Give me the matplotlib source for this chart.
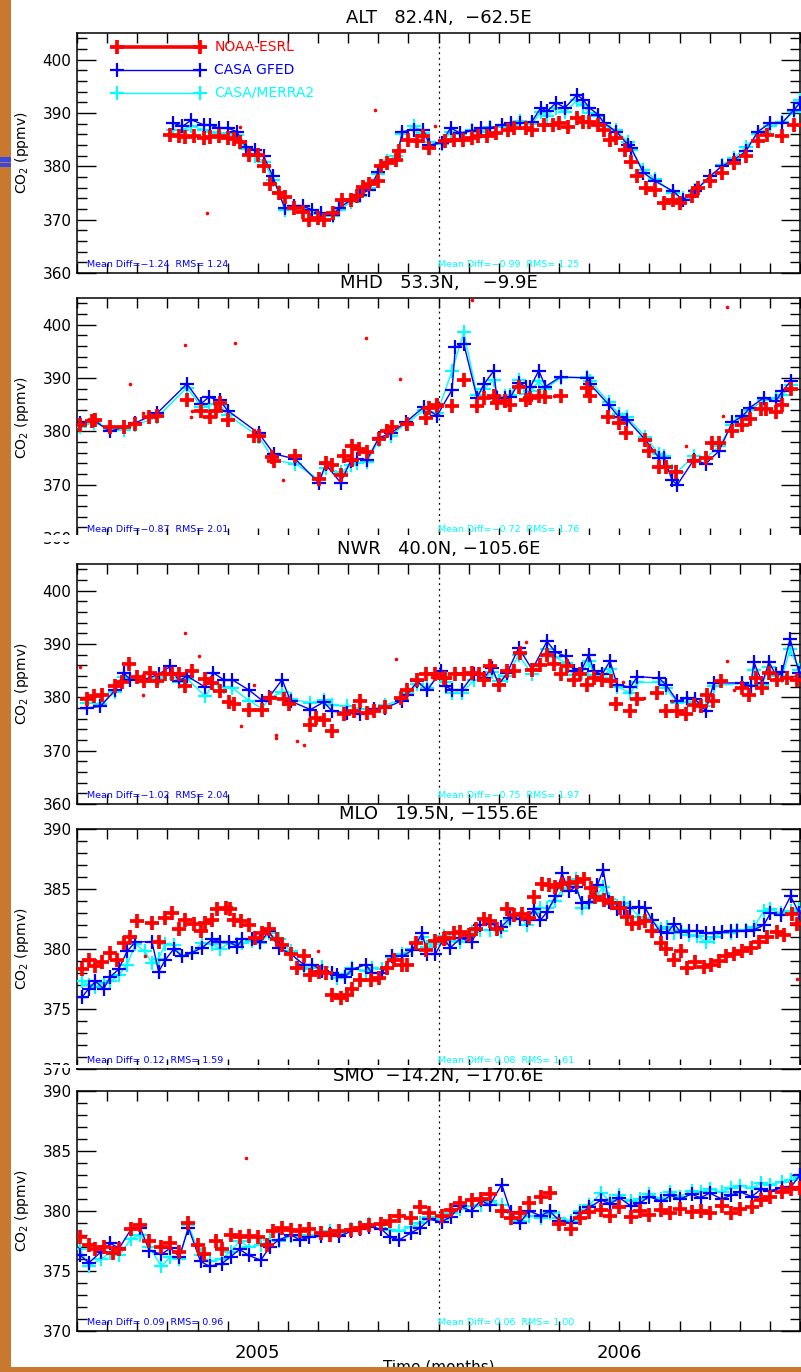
import matplotlib
matplotlib.use("Agg")
import matplotlib.pyplot as plt
from matplotlib.patches import Rectangle
from matplotlib.ticker import MultipleLocator

# ---------------- DATA (time = months since 2004-07-01, CO2 in ppmv) ----------------
stations = ["ALT", "MHD", "NWR", "MLO", "SMO"]
titles = ["ALT   82.4N,  \u221262.5E", "MHD   53.3N,    \u22129.9E", "NWR   40.0N, \u2212105.6E",
          "MLO   19.5N, \u2212155.6E", "SMO  \u221214.2N, \u2212170.6E"]
ylims = [(360, 405), (360, 405), (360, 405), (370, 390), (370, 390)]
stats_gfed = ["Mean Diff=\u22121.24  RMS= 1.24", "Mean Diff=\u22120.87  RMS= 2.01", "Mean Diff=\u22121.02  RMS= 2.04",
              "Mean Diff= 0.12  RMS= 1.59", "Mean Diff= 0.09  RMS= 0.96"]
stats_merra = ["Mean Diff=\u22120.99  RMS= 1.25", "Mean Diff=\u22120.72  RMS= 1.76", "Mean Diff=\u22120.75  RMS= 1.97",
               "Mean Diff= 0.08  RMS= 1.61", "Mean Diff= 0.06  RMS= 1.00"]
legend_labels = ["NOAA-ESRL", "CASA GFED", "CASA/MERRA2"]
year_ticks = [6, 18]
year_labels = ["2005", "2006"]

alt_noaa = [(3.1,385.8),(3.4,385.6),(3.6,385.5),(3.9,385.7),(4.2,385.3),(4.4,385.5),(4.7,385.6),(5.0,385.3),(5.2,385.2),(5.4,384.5),
            (5.7,382.2),(6.0,382.2),(6.2,380.1),(6.4,376.6),(6.7,375.0),(6.9,374.3),(7.2,372.2),(7.5,371.5),(7.7,370.0),(8.0,370.3),
            (8.2,370.0),(8.5,371.2),(8.8,373.7),(9.1,373.7),(9.3,374.4),(9.5,376.2),(9.7,376.6),(10.0,377.3),(10.1,380.0),(10.3,380.6),
            (10.6,381.2),(10.7,382.8),(11.0,385.0),(11.3,384.7),(11.5,385.6),(11.7,383.4),(12.2,384.7),(12.5,385.0),(12.8,385.0),(13.1,385.4),
            (13.3,385.6),(13.6,385.6),(13.9,386.3),(14.3,386.9),(14.5,387.2),(14.9,387.2),(15.1,386.9),(15.5,387.8),(15.8,387.8),(16.0,388.1),
            (16.3,387.4),(16.6,389.1),(16.8,388.4),(17.0,388.4),(17.3,387.8),(17.5,386.9),(17.7,385.0),(17.9,385.4),(18.2,383.1),(18.4,380.9),
            (18.6,378.1),(18.9,376.0),(19.2,375.6),(19.5,373.1),(19.8,373.7),(20.0,373.1),(20.4,374.4),(20.6,375.9),(21.0,377.2),(21.4,378.8),
            (21.8,380.6),(22.2,381.9),(22.6,384.7),(22.9,385.9),(23.4,385.6),(23.8,387.8)]
alt_gfed = [(3.2,388.1),(3.5,387.5),(3.8,388.7),(4.2,387.8),(4.4,387.8),(4.7,387.2),(5.0,387.2),(5.3,386.5),(5.6,383.7),(5.9,383.1),
            (6.2,381.9),(6.5,378.1),(6.7,375.0),(6.9,372.2),(7.2,372.5),(7.5,372.5),(7.8,371.9),(8.1,371.2),(8.5,370.9),(8.7,372.2),
            (9.1,373.7),(9.4,374.7),(9.7,375.6),(10.0,379.0),(10.3,380.6),(10.6,381.2),(10.8,386.5),(11.2,386.9),(11.5,386.9),(11.7,384.0),
            (12.1,384.4),(12.4,387.2),(12.7,386.3),(13.1,386.6),(13.4,387.2),(13.7,387.2),(14.1,387.8),(14.4,388.1),(14.7,388.1),(15.1,388.4),
            (15.4,391.0),(15.6,390.3),(15.9,391.9),(16.2,391.0),(16.6,393.4),(16.8,392.5),(17.0,391.0),(17.3,389.7),(17.5,388.1),(17.9,386.5),
            (18.3,384.0),(18.4,383.4),(18.8,378.8),(19.2,377.2),(19.8,375.3),(20.1,373.7),(20.5,375.3),(21.0,378.1),(21.4,380.0),(21.8,381.2),
            (22.2,382.8),(22.6,386.5),(23.0,388.1),(23.4,388.1),(23.8,390.6),(24.0,391.9)]
alt_merra = [(3.2,386.8),(3.5,386.9),(3.8,387.5),(4.2,386.9),(4.4,386.5),(4.7,386.2),(5.0,386.3),(5.3,385.9),(5.6,383.2),(5.9,382.0),
             (6.2,380.9),(6.5,377.5),(6.7,375.2),(6.9,371.8),(7.2,372.6),(7.5,372.0),(7.8,371.3),(8.1,371.0),(8.5,370.6),(8.7,371.8),
             (9.1,373.3),(9.4,374.4),(9.7,376.0),(10.0,378.6),(10.3,381.0),(10.6,382.0),(10.8,386.0),(11.2,387.6),(11.5,386.2),(11.7,384.6),
             (12.1,384.1),(12.4,386.5),(12.7,386.0),(13.1,386.8),(13.4,386.5),(13.7,387.3),(14.1,387.4),(14.4,387.7),(14.7,388.5),(15.1,388.0),
             (15.4,390.2),(15.6,389.5),(15.9,391.0),(16.2,390.2),(16.6,392.4),(16.8,391.5),(17.0,390.0),(17.3,389.4),(17.5,387.6),(17.9,386.8),
             (18.3,384.5),(18.4,383.0),(18.8,379.4),(19.2,377.6),(19.8,375.0),(20.1,374.0),(20.5,375.6),(21.0,377.5),(21.4,380.3),(21.8,381.5),
             (22.2,383.6),(22.6,386.0),(23.0,387.5),(23.4,388.3),(23.8,390.2),(24.0,392.5)]
alt_flask = [(4.3,371.2),(9.9,390.5),(5.4,387.4),(11.9,387.6)]

mhd_noaa = [(0.1,381.1),(0.5,381.9),(0.6,382.1),(1.1,380.9),(1.55,380.8),(1.94,381.4),(2.38,382.7),(2.66,382.8),(3.65,385.9),(4.12,383.8),
            (4.41,382.7),(4.6,383.8),(4.74,385.4),(5.0,382.1),(5.87,379.2),(6.04,379.2),(6.48,375.1),(6.53,374.4),(7.25,375.3),(8.03,371.1),
            (8.25,374.1),(8.47,373.6),(8.75,371.9),(8.86,375.3),(9.14,374.7),(9.14,377.2),(9.36,376.6),(9.63,376.1),(10.02,378.6),(10.3,380.0),
            (10.46,380.8),(10.96,381.3),(11.57,382.5),(11.68,384.4),(11.96,385.0),(11.95,384.7),(12.45,384.8),(12.84,389.7),(13.28,384.7),(13.5,386.3),
            (13.83,386.7),(13.94,385.3),(14.22,385.6),(14.39,385.0),(14.66,388.4),(14.89,385.9),(15.05,386.3),(15.33,386.7),(15.55,386.4),(16.05,386.6),
            (16.93,388.1),(17.02,386.7),(17.63,382.6),(17.99,381.6),(18.23,379.6),(18.87,378.3),(19.0,376.3),(19.32,373.4),(19.54,373.4),(19.87,372.3),
            (20.48,374.4),(20.87,375.0),(21.09,377.8),(21.31,377.8),(21.75,380.0),(22.08,381.1),(22.33,382.3),(22.69,384.1),(22.86,384.1),(23.19,383.6),
            (23.41,385.0),(23.71,387.9)]
mhd_gfed = [(0.1,381.6),(0.55,382.1),(1.1,380.0),(1.55,380.8),(1.94,381.6),(2.66,383.4),(3.65,388.9),(4.12,385.2),(4.37,386.4),(4.74,385.8),
            (5.0,383.9),(6.04,379.6),(6.53,375.8),(7.25,374.8),(8.03,370.3),(8.25,373.8),(8.75,370.4),(9.08,374.4),(9.3,374.8),(9.63,374.7),
            (10.02,378.8),(10.41,379.6),(10.91,381.7),(11.52,384.6),(11.95,382.9),(12.45,387.8),(12.56,395.8),(12.84,396.4),(13.28,386.3),(13.5,388.8),
            (13.83,391.3),(13.94,386.3),(14.22,386.3),(14.39,386.4),(14.66,389.1),(14.89,388.4),(15.05,388.3),(15.33,391.4),(15.55,388.4),(16.05,390.2),
            (16.93,390.0),(17.02,388.9),(17.65,385.0),(17.99,382.7),(18.26,382.2),(18.87,378.4),(19.32,375.0),(19.48,375.0),(19.76,370.8),(19.93,370.0),
            (20.48,374.7),(20.87,373.9),(21.31,376.3),(21.75,381.7),(22.08,382.8),(22.33,384.4),(22.8,386.3),(23.19,385.6),(23.41,387.5),(23.69,389.4)]
mhd_merra = [(0.1,380.8),(0.55,381.6),(1.1,380.5),(1.55,380.3),(1.94,381.2),(2.66,382.6),(3.65,388.2),(4.12,384.6),(4.37,385.2),(4.74,385.0),
             (5.0,383.1),(6.04,379.0),(6.53,374.6),(7.25,373.9),(8.03,371.0),(8.25,373.2),(8.75,372.3),(9.08,373.6),(9.3,374.0),(9.63,374.3),
             (10.02,378.4),(10.41,379.2),(10.91,381.4),(11.52,384.0),(11.96,383.5),(12.45,391.3),(12.84,398.6),(13.28,386.8),(13.5,388.0),(13.83,389.6),
             (13.94,386.5),(14.22,386.6),(14.39,386.8),(14.66,389.6),(14.89,387.0),(15.05,387.5),(15.33,389.4),(15.55,388.0),(16.05,390.0),(16.93,390.2),
             (17.02,389.5),(17.65,385.5),(17.99,383.2),(18.26,382.6),(18.87,379.0),(19.32,375.7),(19.48,375.3),(19.76,372.6),(19.93,372.4),(20.48,375.4),
             (20.87,375.0),(21.31,377.2),(21.75,381.2),(22.08,382.5),(22.33,384.0),(22.8,385.8),(23.19,386.2),(23.41,386.8),(23.69,388.6)]
mhd_flask = [(1.75,388.9),(3.58,396.1),(5.23,396.6),(9.58,397.5),(10.71,389.8),(6.83,370.8),(3.8,382.6),(2.18,383.4),(3.82,383.9),
             (13.11,404.7),(21.59,403.4),(21.44,382.9),(20.2,377.3),(15.85,386.7)]

nwr_noaa = [(0.33,379.6),(0.55,380.2),(0.83,380.5),(1.27,382.1),(1.5,382.9),(1.72,386.3),(1.99,383.9),(2.21,383.0),(2.41,384.6),(2.66,383.0),
            (2.93,384.4),(3.16,384.3),(3.38,384.3),(3.6,382.1),(3.82,385.0),(4.26,383.5),(4.49,382.7),(4.76,381.1),(5.04,379.1),(5.2,378.8),
            (5.7,377.6),(6.15,377.6),(6.4,379.9),(6.87,379.6),(7.03,378.8),(7.75,374.9),(7.92,376.1),(8.19,375.8),(8.47,373.6),(8.86,376.8),
            (9.19,377.4),(9.41,379.3),(9.63,377.1),(9.86,377.4),(10.24,378.1),(10.74,379.9),(10.96,381.3),(11.3,383.3),(11.57,384.3),(11.9,384.3),
            (12.18,383.6),(12.23,383.6),(12.56,384.4),(12.84,384.3),(13.11,384.6),(13.34,384.4),(13.5,383.3),(13.72,385.8),(14.0,382.4),(14.28,384.9),
            (14.5,385.0),(14.7,388.3),(15.11,385.2),(15.38,386.1),(15.6,387.9),(15.83,386.3),(16.05,384.3),(16.27,385.8),(16.49,383.3),(16.71,384.3),
            (16.93,382.4),(17.16,383.6),(17.43,383.3),(17.71,383.0),(17.88,378.8),(18.37,377.5),(18.6,379.6),(19.26,380.8),(19.54,377.5),(19.93,377.4),
            (20.2,376.8),(20.48,378.6),(20.7,378.3),(20.92,380.5),(21.12,379.3),(21.37,383.0),(22.08,381.8),(22.31,380.5),(22.53,383.6),(22.75,381.8),
            (22.97,384.6),(23.25,383.3),(23.58,383.6),(23.91,383.3)]
nwr_gfed = [(0.33,378.0),(0.78,378.3),(1.27,381.4),(1.55,384.6),(1.77,383.3),(2.21,383.3),(2.71,384.3),(3.1,385.8),(3.38,383.0),(3.65,384.0),
            (4.26,381.9),(4.52,384.6),(4.87,383.3),(5.15,383.3),(5.7,381.4),(6.15,379.4),(6.37,380.0),(6.81,383.3),(7.09,379.3),(7.75,377.7),
            (8.19,379.1),(8.47,377.4),(8.97,377.1),(9.41,376.8),(9.86,377.9),(10.24,378.0),(10.8,379.4),(10.96,380.5),(11.3,383.0),(11.63,381.3),
            (12.07,384.9),(12.24,382.1),(12.45,381.4),(12.78,381.4),(13.17,384.3),(13.5,383.6),(13.78,385.5),(14.0,382.4),(14.28,384.6),(14.66,389.3),
            (15.11,385.2),(15.6,390.5),(15.88,388.5),(16.22,387.7),(16.49,385.0),(16.77,385.4),(16.99,388.0),(17.16,384.9),(17.43,384.3),(17.69,386.8),
            (17.93,382.4),(18.37,381.9),(18.6,383.9),(19.32,383.6),(19.54,382.4),(19.93,379.3),(20.26,379.9),(20.53,379.6),(20.87,377.5),(21.14,382.7),
            (22.08,382.7),(22.36,382.1),(22.47,386.6),(22.75,382.7),(22.97,386.6),(23.19,384.3),(23.41,384.8),(23.67,391.0),(23.97,384.6)]
nwr_merra = [(0.33,379.0),(0.78,378.8),(1.27,381.0),(1.55,383.8),(1.77,383.6),(2.21,383.0),(2.71,383.6),(3.1,384.5),(3.38,382.8),(3.65,383.5),
             (4.26,380.2),(4.52,382.5),(4.87,382.0),(5.15,381.8),(5.7,379.4),(6.15,377.9),(6.37,379.8),(6.81,381.0),(7.09,379.6),(7.75,379.0),
             (8.19,379.5),(8.47,378.5),(8.97,378.4),(9.41,377.9),(9.86,377.6),(10.24,378.6),(10.8,379.6),(10.96,380.8),(11.3,382.5),(11.63,381.8),
             (12.07,384.3),(12.24,382.8),(12.45,380.8),(12.78,380.9),(13.17,383.2),(13.5,383.4),(13.78,384.8),(14.0,383.0),(14.28,384.0),(14.66,387.9),
             (15.11,384.3),(15.6,389.1),(15.88,387.6),(16.22,386.4),(16.49,384.1),(16.77,384.6),(16.99,386.9),(17.16,384.2),(17.43,383.6),(17.69,385.4),
             (17.93,382.0),(18.37,380.8),(18.6,382.8),(19.32,382.8),(19.54,381.8),(19.93,379.0),(20.26,379.2),(20.53,379.1),(20.87,378.4),(21.14,382.2),
             (22.08,382.6),(22.36,382.4),(22.47,385.2),(22.75,382.4),(22.97,385.6),(23.19,384.0),(23.41,384.0),(23.67,389.0),(23.97,385.2)]
nwr_flask = [(0.1,385.6),(3.58,392.1),(4.06,387.7),(5.43,374.6),(5.89,382.4),(6.59,373.0),(6.6,372.4),(7.29,371.9),(7.53,371.0),(10.58,387.1),
             (2.18,380.5),(14.92,390.4),(21.59,386.9),(21.81,381.3),(19.76,379.4),(18.12,382.9),(18.82,379.9),(11.79,383.9)]

mlo_noaa = [(0.17,378.3),(0.39,379.1),(0.61,378.6),(0.83,378.9),(1.11,379.7),(1.33,379.1),(1.55,380.5),(1.77,381.0),(1.99,382.3),(2.49,382.2),
            (2.71,380.6),(2.93,382.6),(3.16,383.0),(3.38,381.7),(3.6,382.4),(3.88,382.1),(4.1,381.5),(4.26,382.2),(4.49,382.4),(4.65,383.3),
            (4.93,383.4),(5.09,383.3),(5.2,382.4),(5.43,382.3),(5.7,382.0),(5.92,380.9),(6.15,381.3),(6.37,381.7),(6.64,380.8),(6.81,380.3),
            (7.09,379.6),(7.31,378.4),(7.53,379.4),(7.75,377.8),(8.03,378.1),(8.25,378.0),(8.47,376.2),(8.75,375.9),(8.97,376.2),(9.14,376.7),
            (9.41,377.4),(9.75,377.4),(10.02,377.6),(10.3,378.4),(10.52,379.1),(10.8,378.7),(10.96,378.7),(11.24,380.5),(11.57,379.9),(11.9,380.7),
            (12.18,380.8),(12.23,380.9),(12.51,381.3),(12.73,381.4),(13.0,381.2),(13.23,381.7),(13.5,382.5),(13.72,382.3),(13.94,381.7),(14.28,383.3),
            (14.5,382.8),(14.78,382.9),(15.0,382.6),(15.16,384.3),(15.44,385.4),(15.66,385.3),(15.88,385.2),(16.1,385.4),(16.33,385.5),(16.6,385.6),
            (16.82,385.8),(17.05,385.1),(17.21,384.3),(17.49,384.1),(17.77,383.8),(18.04,383.4),(18.26,382.7),(18.43,382.1),(18.65,382.2),(18.87,382.3),
            (19.09,381.5),(19.37,380.5),(19.54,380.0),(19.82,379.1),(20.04,379.8),(20.26,378.4),(20.53,378.9),(20.81,378.5),(21.03,378.7),(21.31,379.0),
            (21.53,379.4),(21.81,379.6),(22.08,379.8),(22.36,380.1),(22.64,380.6),(22.92,381.0),(23.25,381.4),(23.47,381.2),(23.75,382.9),(23.91,382.1)]
mlo_gfed = [(0.17,376.0),(0.39,376.7),(0.61,377.3),(0.89,376.7),(1.11,377.7),(1.38,378.3),(1.66,379.8),(1.94,380.6),(2.49,380.6),(2.71,378.1),
            (2.93,379.1),(3.21,380.0),(3.49,379.4),(3.82,379.7),(4.15,380.1),(4.49,380.8),(4.76,380.6),(5.04,380.6),(5.32,380.2),(5.48,380.8),
            (5.81,380.8),(6.09,380.6),(6.37,381.5),(6.7,380.1),(7.09,379.6),(7.53,378.7),(7.81,378.7),(8.14,378.2),(8.47,378.0),(8.64,377.8),
            (8.91,377.7),(9.14,378.3),(9.58,378.7),(9.8,378.0),(10.13,378.0),(10.47,379.4),(10.8,379.4),(11.13,379.9),(11.46,381.3),(11.63,379.6),
            (11.9,379.6),(12.18,380.9),(12.39,380.1),(12.73,380.9),(13.11,380.6),(13.39,382.0),(13.72,382.1),(14.06,381.8),(14.39,382.6),(14.72,382.5),
            (14.94,382.4),(15.16,383.3),(15.38,382.4),(15.61,383.1),(15.88,384.4),(16.1,386.3),(16.33,384.8),(16.55,385.2),(16.77,383.8),(16.99,383.9),
            (17.27,385.3),(17.47,386.6),(17.65,383.9),(17.93,383.3),(18.15,383.4),(18.37,383.4),(18.65,383.5),(18.87,383.4),(19.09,382.4),(19.37,381.4),
            (19.59,381.3),(19.82,382.1),(20.04,381.4),(20.31,381.5),(20.59,381.5),(20.87,381.3),(21.14,381.3),(21.42,381.4),(21.7,381.5),(21.92,381.5),
            (22.2,381.5),(22.47,381.6),(22.8,382.0),(23.02,383.0),(23.36,382.8),(23.69,384.4),(23.97,383.0)]
mlo_merra = [(0.17,377.3),(0.39,377.0),(0.61,376.8),(0.89,377.2),(1.11,377.3),(1.38,377.8),(1.66,378.7),(1.94,380.4),(2.25,379.8),(2.49,378.8),
             (2.71,379.2),(2.93,380.4),(3.21,380.3),(3.49,379.4),(3.82,379.7),(4.15,380.5),(4.49,380.4),(4.76,380.0),(5.04,380.5),(5.32,380.4),
             (5.48,380.5),(5.81,380.7),(6.09,380.5),(6.37,381.3),(6.7,380.8),(7.09,379.8),(7.53,378.3),(7.81,378.4),(8.14,378.5),(8.47,378.0),
             (8.64,377.6),(8.91,377.9),(9.14,378.4),(9.58,378.2),(9.8,378.4),(10.13,378.3),(10.47,379.3),(10.8,379.6),(11.13,380.0),(11.46,381.0),
             (11.63,380.2),(11.9,380.4),(12.18,381.1),(12.39,380.7),(12.73,380.6),(13.11,381.4),(13.39,381.6),(13.72,381.6),(14.06,381.5),(14.39,382.4),
             (14.72,382.6),(14.94,382.0),(15.16,383.0),(15.38,383.4),(15.61,383.4),(15.88,384.0),(16.1,385.0),(16.33,385.3),(16.55,385.8),(16.77,383.4),
             (16.99,383.8),(17.27,384.5),(17.47,385.2),(17.65,384.2),(17.93,383.6),(18.15,383.8),(18.37,383.5),(18.65,382.7),(18.87,382.6),(19.09,382.4),
             (19.37,381.7),(19.59,381.8),(19.82,381.3),(20.04,381.6),(20.31,381.2),(20.59,381.1),(20.87,380.6),(21.14,381.0),(21.42,381.4),(21.7,381.3),
             (21.92,381.6),(22.2,381.6),(22.47,381.8),(22.8,383.2),(23.02,383.3),(23.36,383.0),(23.69,383.2),(23.97,383.3)]
mlo_flask = [(2.25,379.4),(8.01,379.8),(23.91,377.5)]

smo_noaa = [(0.1,377.8),(0.4,377.2),(0.6,376.8),(0.9,377.0),(1.2,376.5),(1.4,376.8),(1.8,378.5),(2.1,378.8),(2.4,377.5),(2.8,377.0),
            (3.1,377.3),(3.4,376.6),(3.7,379.0),(4.0,377.2),(4.2,376.4),(4.6,377.5),(4.8,376.8),(5.1,378.0),(5.4,377.8),(5.7,377.9),
            (6.0,377.8),(6.3,377.2),(6.5,378.3),(6.8,378.6),(7.1,378.4),(7.4,378.3),(7.7,378.5),(8.1,378.2),(8.4,378.0),(8.7,378.3),
            (9.1,378.4),(9.4,378.6),(9.7,378.8),(10.1,378.9),(10.4,379.2),(10.7,379.6),(11.1,379.4),(11.4,380.3),(11.7,379.8),(12.1,379.6),
            (12.4,380.1),(12.7,380.7),(13.1,380.9),(13.4,381.0),(13.7,381.4),(14.1,380.0),(14.4,379.4),(14.7,379.8),(15.0,380.7),(15.4,381.2),
            (15.7,381.5),(16.0,378.9),(16.4,378.5),(16.7,379.4),(17.0,379.9),(17.4,380.1),(17.7,379.6),(18.0,380.3),(18.4,379.5),(18.7,380.0),
            (19.0,379.7),(19.4,380.1),(19.7,379.8),(20.0,380.2),(20.4,379.9),(20.7,380.0),(21.0,379.8),(21.4,380.4),(21.7,379.8),(22.0,380.2),
            (22.4,380.3),(22.7,380.9),(23.0,381.2),(23.4,381.6),(23.7,381.8),(24.0,381.9)]
smo_gfed = [(0.1,376.3),(0.4,375.7),(0.8,376.6),(1.1,377.3),(1.4,376.9),(1.8,378.5),(2.1,378.6),(2.4,376.7),(2.8,376.4),(3.1,376.9),
            (3.4,376.2),(3.7,378.6),(4.1,375.8),(4.4,375.4),(4.8,375.6),(5.1,376.2),(5.4,376.8),(5.7,376.3),(6.1,375.9),(6.4,377.0),
            (6.7,377.6),(7.1,378.0),(7.4,377.6),(7.7,377.8),(8.1,377.9),(8.4,378.1),(8.7,377.9),(9.1,378.3),(9.4,378.5),(9.7,378.7),
            (10.1,378.5),(10.4,377.8),(10.7,377.6),(11.1,378.2),(11.4,378.6),(11.7,379.3),(12.1,379.1),(12.4,379.5),(12.7,380.4),(13.1,380.0),
            (13.4,380.9),(13.7,380.5),(14.1,382.2),(14.4,379.9),(14.7,379.0),(15.0,380.0),(15.4,379.6),(15.7,380.0),(16.0,379.2),(16.4,379.0),
            (16.7,379.8),(17.0,380.3),(17.4,380.9),(17.7,380.6),(18.0,381.1),(18.4,380.4),(18.7,380.7),(19.0,381.2),(19.4,380.8),(19.7,381.3),
            (20.0,381.0),(20.4,381.4),(20.7,381.1),(21.0,381.5),(21.4,381.0),(21.7,381.3),(22.0,381.6),(22.4,381.2),(22.7,381.8),(23.0,381.7),
            (23.4,381.9),(23.7,382.0),(24.0,383.0)]
smo_merra = [(0.1,376.8),(0.4,375.4),(0.8,376.0),(1.1,376.5),(1.4,376.3),(1.8,377.7),(2.1,378.0),(2.4,377.0),(2.8,375.4),(3.1,376.2),
             (3.4,376.0),(3.7,378.8),(4.1,376.3),(4.4,375.8),(4.8,376.0),(5.1,376.6),(5.4,377.5),(5.7,377.0),(6.1,377.2),(6.4,377.6),
             (6.7,377.5),(7.1,377.9),(7.4,377.9),(7.7,378.0),(8.1,378.1),(8.4,378.3),(8.7,378.1),(9.1,378.5),(9.4,378.7),(9.7,378.9),
             (10.1,378.8),(10.4,378.4),(10.7,378.3),(11.1,378.7),(11.4,379.0),(11.7,379.5),(12.1,379.3),(12.4,379.8),(12.7,380.2),(13.1,380.4),
             (13.4,380.5),(13.7,380.8),(14.1,380.5),(14.4,379.4),(14.7,379.2),(15.0,379.6),(15.4,379.4),(15.7,379.8),(16.0,379.4),(16.4,379.2),
             (16.7,380.0),(17.0,380.5),(17.4,381.5),(17.7,380.8),(18.0,381.3),(18.4,380.8),(18.7,381.0),(19.0,381.4),(19.4,381.0),(19.7,381.6),
             (20.0,381.2),(20.4,381.7),(20.7,381.6),(21.0,381.8),(21.4,381.6),(21.7,381.9),(22.0,382.1),(22.4,381.9),(22.7,382.3),(23.0,382.2),
             (23.4,382.4),(23.7,382.6),(24.0,382.8)]
smo_flask = [(5.6,384.4)]

noaa = [alt_noaa, mhd_noaa, nwr_noaa, mlo_noaa, smo_noaa]
gfed = [alt_gfed, mhd_gfed, nwr_gfed, mlo_gfed, smo_gfed]
merra = [alt_merra, mhd_merra, nwr_merra, mlo_merra, smo_merra]
flask = [alt_flask, mhd_flask, nwr_flask, mlo_flask, smo_flask]

# ---------------- LAYOUT ----------------
W, H = 801, 1372
fig = plt.figure(figsize=(W / 100, H / 100), dpi=100)
fig.patch.set_facecolor("white")
plt.rcParams["font.family"] = ["DejaVu Sans"]

ax_left, ax_right = 77, 800
tops = [33, 298, 564, 829, 1091]
ph = 240
RED, BLUE, CYAN = "#ff0000", "#0000ff", "#00ffff"


def unz(pairs):
    return [p[0] for p in pairs], [p[1] for p in pairs]


for i, st in enumerate(stations):
    top = tops[i]
    ax = fig.add_axes([ax_left / W, 1 - (top + ph) / H, (ax_right - ax_left) / W, ph / H])
    t, v = unz(merra[i])
    ax.plot(t, v, color=CYAN, lw=1.0, marker="+", ms=10, mew=1.6, zorder=3)
    t, v = unz(gfed[i])
    ax.plot(t, v, color=BLUE, lw=1.0, marker="+", ms=10, mew=1.6, zorder=4)
    t, v = unz(noaa[i])
    ax.plot(t, v, ls="none", color=RED, marker="+", ms=10.5, mew=2.7, zorder=5)
    t, v = unz(flask[i])
    ax.plot(t, v, ls="none", color=RED, marker="o", ms=2.6, mew=0, zorder=5)
    ax.axvline(12, color="black", lw=0.9, ls=(0, (1.5, 3)), zorder=2)

    ax.set_xlim(0, 24)
    ax.set_ylim(*ylims[i])
    ax.set_xticks(range(0, 25))
    if i == 4:
        ax.set_xticklabels(["" if k not in year_ticks else year_labels[year_ticks.index(k)] for k in range(25)])
    else:
        ax.set_xticklabels([])
    ax.tick_params(axis="x", which="major", direction="in", length=7, width=1, top=True, bottom=True,
                   labelsize=13, pad=9)
    if ylims[i][1] - ylims[i][0] > 30:
        ax.yaxis.set_major_locator(MultipleLocator(10))
        ax.yaxis.set_minor_locator(MultipleLocator(2))
    else:
        ax.yaxis.set_major_locator(MultipleLocator(5))
        ax.yaxis.set_minor_locator(MultipleLocator(1))
    ax.tick_params(axis="y", which="major", direction="in", length=14, width=1, left=True, right=True,
                   labelsize=11, pad=4)
    ax.tick_params(axis="y", which="minor", direction="in", length=7, width=1, left=True, right=True)
    for s in ax.spines.values():
        s.set_linewidth(1.1)
    ax.set_ylabel("CO$_2$ (ppmv)", fontsize=10)
    ax.yaxis.set_label_coords(-0.064, 0.5)

    ax.text(0.014, 0.015, stats_gfed[i], transform=ax.transAxes, color=BLUE, fontsize=6.8,
            ha="left", va="bottom", zorder=6)
    ax.text(0.5, 0.015, stats_merra[i], transform=ax.transAxes, color=CYAN, fontsize=6.8,
            ha="left", va="bottom", zorder=6)

    fig.text((ax_left + ax_right) / 2 / W, 1 - (top - 15) / H, titles[i], ha="center", va="center",
             fontsize=13, zorder=5)

    if i == 0:
        cols = [RED, BLUE, CYAN]
        mews = [2.7, 1.6, 1.6]
        lws = [2.6, 1.0, 1.0]
        for k in range(3):
            yy = 0.942 - k * 0.096
            ax.plot([0.055, 0.170], [yy, yy], transform=ax.transAxes, color=cols[k], lw=lws[k],
                    marker="+", ms=10, mew=mews[k], clip_on=False, zorder=6)
            ax.text(0.19, yy, legend_labels[k], transform=ax.transAxes, color=cols[k], fontsize=10,
                    va="center", ha="left", zorder=6)

# x label (its lower part is hidden by the frame at the bottom, as in the original slide)
fig.text((ax_left + ax_right) / 2 / W, 1 - 1359 / H, "Time (months)", ha="center", va="top", fontsize=11, zorder=5)

# crop strips that hide the bottom of the MHD and MLO panels
for yc0, yc1 in [(535.5, 542), (1065, 1067.5)]:
    fig.patches.append(Rectangle((11 / W, 1 - yc1 / H), 1, (yc1 - yc0) / H, transform=fig.transFigure,
                                 facecolor="white", edgecolor="none", zorder=4))

# slide frame (wood colour) on the left and bottom
wood = "#c9792f"
fig.patches.append(Rectangle((0, 0), 11 / W, 1, transform=fig.transFigure, facecolor=wood, edgecolor="none", zorder=10))
fig.patches.append(Rectangle((0, 0), 1, 5 / H, transform=fig.transFigure, facecolor=wood, edgecolor="none", zorder=10))
for y0 in [157, 162.5]:
    fig.patches.append(Rectangle((0, 1 - (y0 + 4.5) / H), 11 / W, 4.5 / H, transform=fig.transFigure,
                                 facecolor="#3a48e0", edgecolor="none", zorder=11))

fig.savefig("out.png", dpi=100, facecolor="white")
